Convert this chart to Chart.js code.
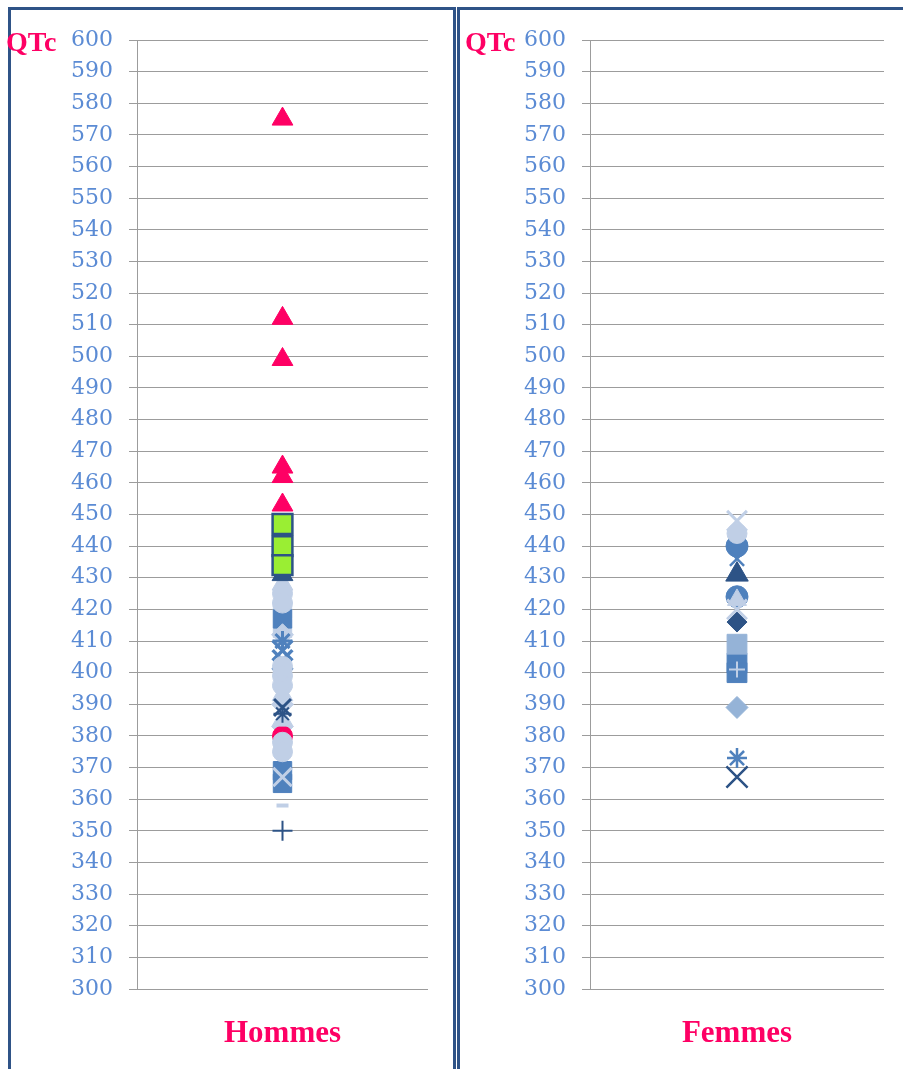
<!DOCTYPE html>
<html>
<head>
<meta charset="utf-8">
<title>QTc</title>
<script src="https://cdn.jsdelivr.net/npm/chart.js@4.4.1/dist/chart.umd.min.js"></script>
<style>
  body { margin: 0; background: #fff; }
  #page { position: relative; width: 903px; height: 1069px; overflow: hidden; background: #fff; }
  .cadre { position: absolute; border: 3px solid #2f5387; border-bottom: none; box-sizing: border-box; }
  #cadreH { left: 8px; top: 7px; width: 448px; height: 1080px; }
  #cadreF { left: 457px; top: 7px; width: 470px; height: 1080px; border-right: none; }
  .zone { position: absolute; top: 0; height: 1069px; }
</style>
</head>
<body>
<div id="page">
  <div class="cadre" id="cadreH"></div>
  <div class="cadre" id="cadreF"></div>
  <div class="zone" style="left:0; width:456px"><canvas id="chartHommes" width="456" height="1069"></canvas></div>
  <div class="zone" style="left:456px; width:447px"><canvas id="chartFemmes" width="447" height="1069"></canvas></div>
</div>
<script>
// categories
var categories = ['Hommes', 'Femmes'];

// echelle QTc (ms)
var yMin = 300;
var yMax = 600;
var yPas = 10;

// Hommes : une liste par type de marqueur
var hommesTriangleRose = [575, 512, 499, 465, 462, 453];
var hommesCarreVert = [447, 440, 434];
var hommesTriangleFonce = [431];
var hommesTrianglePale = [428, 393, 385];
var hommesCarrePale = [420, 414];
var hommesRondPale = [425, 422, 402, 399, 396, 378, 375];
var hommesCarreMoyen = [417, 369, 365];
var hommesLosangePale = [412, 390, 383];
var hommesEtoileMoyen = [410];
var hommesCroixPale = [398, 367];
var hommesCroixMoyen = [407, 404];
var hommesCroixFonce = [389];
var hommesEtoileFonce = [387];
var hommesRondRose = [380];
var hommesTiret = [358];
var hommesPlus = [350];

// Femmes
var femmesCroixPale = [448, 420];
var femmesRondPale = [444];
var femmesRondMoyen = [440, 424];
var femmesCroixMoyen = [436];
var femmesTriangleFonce = [431];
var femmesTrianglePale = [423];
var femmesLosangeFonce = [416];
var femmesCarreClair = [409];
var femmesCarreMoyen = [403, 400];
var femmesPlusPale = [401];
var femmesLosangeClair = [389];
var femmesEtoileMoyen = [373];
var femmesCroixFonce = [367];

var rose = '#fe0064';
var vert = '#9aee33';
var fonce = '#2d5386';
var moyen = '#4f81bd';
var clair = '#95b3d7';
var pale = '#c0cfe6';
var bleuTexte = '#5b8bd4';
var gris = '#9c9c9c';

// un dataset = une serie de points sur la meme categorie
var serie = function (valeurs, categorie, style, couleur, rayon, bord, epaisseur) {
    return {
        data: valeurs.map(function (v) { return { x: categorie, y: v }; }),
        showLine: false,
        pointStyle: style,
        pointRadius: rayon,
        pointBackgroundColor: couleur,
        pointBorderColor: bord || couleur,
        pointBorderWidth: epaisseur || 1
    };
};

// titre "QTc" en haut de l'axe
var titreQTc = {
    id: 'titreQTc',
    afterDraw: function (chart, args, opts) {
        var ctx = chart.ctx;
        ctx.save();
        ctx.font = 'bold 28px "Liberation Serif"';
        ctx.fillStyle = rose;
        ctx.textBaseline = 'alphabetic';
        ctx.fillText(opts.texte, opts.x, opts.y);
        ctx.restore();
    }
};

var options = function (largeurAxe, margeDroite, xTitre) {
    return {
        responsive: false,
        animation: false,
        events: [],
        layout: { padding: { top: 40, right: margeDroite, left: 0, bottom: 0 } },
        plugins: {
            legend: { display: false },
            tooltip: { enabled: false },
            titreQTc: { texte: 'QTc', x: xTitre, y: 51 }
        },
        scales: {
            x: {
                type: 'category',
                offset: true,
                grid: { display: false, drawTicks: false },
                border: { display: false },
                ticks: {
                    color: rose,
                    font: { family: '"Liberation Serif"', size: 31, weight: 'bold' },
                    padding: 26
                },
                afterFit: function (scale) { scale.height = 80; }
            },
            y: {
                min: yMin,
                max: yMax,
                grid: { color: gris, lineWidth: 1, tickLength: 8, drawTicks: true },
                border: { display: true, color: gris, width: 1 },
                ticks: {
                    stepSize: yPas,
                    autoSkip: false,
                    color: bleuTexte,
                    padding: 16,
                    font: { family: '"DejaVu Serif"', size: 22 }
                },
                afterFit: function (scale) { scale.width = largeurAxe; }
            }
        }
    };
};

var h = categories[0];
var chartHommes = new Chart(document.getElementById('chartHommes'), {
    type: 'line',
    data: {
        labels: [h],
        datasets: [
            serie(hommesTriangleRose, h, 'triangle', rose, 12),
            serie(hommesCarreVert, h, 'rect', vert, 14, fonce, 2.5),
            serie(hommesTiret, h, 'line', pale, 6, pale, 4),
            serie(hommesPlus, h, 'cross', fonce, 10, fonce, 2),
            serie(hommesTriangleFonce, h, 'triangle', fonce, 12),
            serie(hommesCroixPale, h, 'crossRot', pale, 13, pale, 3),
            serie(hommesCroixFonce, h, 'crossRot', fonce, 12, fonce, 3),
            serie(hommesEtoileFonce, h, 'star', fonce, 9, fonce, 2),
            serie(hommesTrianglePale, h, 'triangle', pale, 12),
            serie(hommesRondPale, h, 'circle', pale, 10),
            serie(hommesRondRose, h, 'circle', rose, 10),
            serie(hommesEtoileMoyen, h, 'star', moyen, 10, moyen, 3),
            serie(hommesCroixMoyen, h, 'crossRot', moyen, 14, moyen, 3.5),
            serie(hommesLosangePale, h, 'rectRot', pale, 11),
            serie(hommesCarreMoyen, h, 'rect', moyen, 13),
            serie(hommesCarrePale, h, 'rect', pale, 13)
        ]
    },
    options: options(137, 28, 6),
    plugins: [titreQTc]
});

var f = categories[1];
var chartFemmes = new Chart(document.getElementById('chartFemmes'), {
    type: 'line',
    data: {
        labels: [f],
        datasets: [
            serie(femmesCroixPale, f, 'crossRot', pale, 14, pale, 3),
            serie(femmesPlusPale, f, 'cross', pale, 8, pale, 2),
            serie(femmesCroixFonce, f, 'crossRot', fonce, 15, fonce, 2.5),
            serie(femmesEtoileMoyen, f, 'star', moyen, 10, moyen, 2.5),
            serie(femmesCroixMoyen, f, 'crossRot', moyen, 10, moyen, 2.5),
            serie(femmesTrianglePale, f, 'triangle', pale, 11),
            serie(femmesRondPale, f, 'circle', pale, 10),
            serie(femmesRondMoyen, f, 'circle', moyen, 11),
            serie(femmesTriangleFonce, f, 'triangle', fonce, 13),
            serie(femmesLosangeFonce, f, 'rectRot', fonce, 10),
            serie(femmesCarreClair, f, 'rect', clair, 14),
            serie(femmesCarreMoyen, f, 'rect', moyen, 14),
            serie(femmesLosangeClair, f, 'rectRot', clair, 11)
        ]
    },
    options: options(134, 19, 9),
    plugins: [titreQTc]
});
</script>
</body>
</html>
